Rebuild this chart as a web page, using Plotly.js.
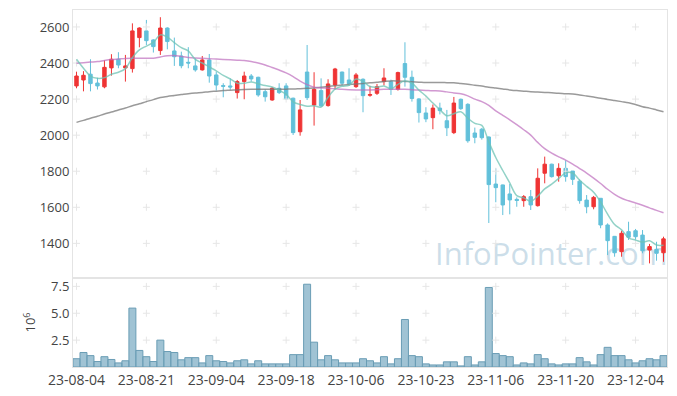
<!DOCTYPE html>
<html>
<head>
<meta charset="utf-8">
<script src="https://cdn.plot.ly/plotly-3.0.1.min.js"></script>
<style>html,body{margin:0;padding:0;background:#fff;}#chart{width:677px;height:396px;}</style>
</head>
<body>
<div id="chart"></div>
<script>
const dates = [
"2023-08-04","2023-08-07","2023-08-08","2023-08-09","2023-08-10","2023-08-11","2023-08-14","2023-08-16","2023-08-17","2023-08-18",
"2023-08-21","2023-08-22","2023-08-23","2023-08-24","2023-08-25","2023-08-28","2023-08-29","2023-08-30","2023-08-31","2023-09-01",
"2023-09-04","2023-09-05","2023-09-06","2023-09-07","2023-09-08","2023-09-11","2023-09-12","2023-09-13","2023-09-14","2023-09-15",
"2023-09-18","2023-09-19","2023-09-20","2023-09-21","2023-09-22","2023-09-25","2023-09-26","2023-09-27","2023-10-04","2023-10-05",
"2023-10-06","2023-10-10","2023-10-11","2023-10-12","2023-10-13","2023-10-16","2023-10-17","2023-10-18","2023-10-19","2023-10-20",
"2023-10-23","2023-10-24","2023-10-25","2023-10-26","2023-10-27","2023-10-30","2023-10-31","2023-11-01","2023-11-02","2023-11-03",
"2023-11-06","2023-11-07","2023-11-08","2023-11-09","2023-11-10","2023-11-13","2023-11-14","2023-11-15","2023-11-16","2023-11-17",
"2023-11-20","2023-11-21","2023-11-22","2023-11-23","2023-11-24","2023-11-27","2023-11-28","2023-11-29","2023-11-30","2023-12-01",
"2023-12-04","2023-12-05","2023-12-06","2023-12-07","2023-12-08"];

const openP = [2273,2306,2338,2289,2268,2373,2421,2373,2369,2541,2578,2528,2469,2594,2467,2439,2404,2384,2362,2417,
2334,2275,2273,2236,2297,2328,2321,2241,2195,2260,2273,2205,2019,2350,2167,2247,2164,2278,2350,2306,
2269,2310,2221,2232,2297,2297,2254,2397,2321,2201,2123,2097,2150,2080,2014,2199,2171,2012,2033,1990,
1729,1724,1674,1644,1637,1659,1609,1789,1839,1775,1816,1801,1745,1640,1603,1650,1502,1439,1354,1465,
1470,1446,1363,1367,1348];
const highP = [2352,2355,2421,2318,2415,2449,2460,2445,2620,2598,2639,2532,2654,2598,2541,2463,2488,2426,2439,2450,
2352,2288,2315,2306,2352,2339,2324,2254,2266,2288,2288,2208,2195,2500,2349,2315,2310,2373,2352,2371,
2345,2315,2273,2284,2371,2308,2352,2515,2358,2205,2155,2170,2180,2140,2212,2203,2177,2042,2040,1993,
1816,1726,1729,1655,1668,1696,1816,1881,1842,1844,1860,1801,1755,1668,1663,1650,1511,1441,1470,1520,
1480,1474,1397,1409,1437];
const lowP = [2260,2243,2243,2253,2260,2330,2371,2297,2347,2487,2500,2458,2445,2476,2384,2371,2371,2352,2358,2291,
2247,2210,2251,2203,2199,2297,2213,2186,2191,2228,2195,2001,1997,2195,2053,2158,2158,2254,2273,2273,
2262,2127,2213,2223,2276,2223,2247,2269,2186,2070,2072,2033,2115,1995,2006,2140,1958,1955,1975,1513,
1628,1557,1561,1603,1603,1585,1604,1733,1765,1742,1742,1724,1620,1567,1589,1484,1335,1326,1326,1419,
1420,1345,1289,1304,1298];
const closeP = [2328,2332,2286,2273,2376,2421,2389,2384,2578,2594,2524,2491,2594,2519,2435,2385,2400,2362,2417,2328,
2278,2271,2267,2297,2328,2312,2223,2213,2260,2236,2201,2014,2140,2208,2254,2162,2284,2367,2288,2284,
2334,2219,2225,2269,2317,2254,2347,2321,2203,2125,2090,2150,2136,2041,2178,2147,1969,1988,1986,1726,
1709,1613,1641,1638,1659,1613,1761,1839,1770,1816,1770,1755,1637,1603,1655,1502,1415,1348,1456,1434,
1437,1359,1382,1345,1425];
// volume in millions of shares
const volume = [0.77,1.35,1.06,0.51,0.96,0.70,0.38,0.58,5.48,1.54,0.96,0.51,2.50,1.44,1.35,0.67,0.87,0.87,0.38,1.06,
0.58,0.51,0.38,0.58,0.67,0.29,0.58,0.29,0.29,0.29,0.29,1.15,1.15,7.70,2.31,0.67,1.06,0.67,0.38,0.38,
0.38,0.77,0.58,0.38,0.96,0.29,0.77,4.42,1.06,0.96,0.29,0.19,0.19,0.48,0.48,0.10,0.96,0.19,0.48,7.40,
1.25,1.06,0.96,0.19,0.38,0.29,1.15,0.77,0.29,0.19,0.29,0.29,0.87,0.48,0.19,1.15,1.83,1.06,1.06,0.67,
0.38,0.58,0.77,0.67,1.06];
const ma5 = [2421,2371,2328,2315,2319,2338,2349,2369,2430,2473,2494,2514,2556,2544,2513,2485,2467,2420,2400,2378,
2357,2331,2312,2288,2288,2295,2285,2275,2267,2249,2227,2185,2170,2160,2163,2156,2210,2255,2271,2277,
2311,2298,2270,2266,2273,2257,2282,2302,2288,2250,2217,2178,2141,2108,2119,2130,2094,2065,2054,1963,
1876,1804,1735,1665,1652,1633,1662,1702,1728,1760,1791,1790,1750,1716,1684,1630,1562,1505,1475,1431,
1418,1407,1414,1391,1390];
const ma20 = [2399,2402,2405,2408,2414,2419,2422,2425,2426,2426,2426,2427,2434,2440,2442,2436,2431,2428,2426,2424,
2422,2420,2418,2416,2414,2409,2400,2389,2375,2361,2345,2325,2300,2280,2266,2262,2260,2257,2254,2252,
2251,2251,2251,2252,2254,2254,2254,2254,2252,2250,2248,2246,2245,2240,2234,2230,2218,2200,2186,2165,
2135,2110,2085,2058,2030,2000,1960,1925,1900,1880,1862,1840,1815,1790,1762,1732,1700,1672,1650,1636,
1624,1611,1597,1583,1570];
const ma60 = [2071,2082,2094,2105,2117,2128,2140,2151,2163,2174,2186,2197,2209,2215,2220,2225,2230,2234,2237,2241,
2244,2247,2249,2251,2253,2254,2254,2254,2254,2254,2255,2256,2258,2260,2262,2266,2270,2274,2278,2281,
2284,2287,2290,2294,2298,2301,2300,2298,2296,2294,2292,2292,2292,2291,2290,2286,2282,2277,2272,2266,
2261,2256,2251,2247,2244,2241,2239,2237,2235,2233,2230,2228,2223,2217,2211,2205,2198,2192,2186,2180,
2170,2158,2150,2140,2130];

const priceTicks = [1400,1600,1800,2000,2200,2400,2600];
const volTicks = [2.5,5,7.5];
const volTickText = ["2.5","5.0","7.5"];
const xTickVals = dates.filter((d,i)=>i%10===0);
const xTickText = xTickVals.map(d=>d.slice(2));

const gridColor = '#e6e6e6';
function crosses(yvals, yaxis){
  const xs=[], ys=[];
  xTickVals.forEach(x=>yvals.forEach(y=>{xs.push(x);ys.push(y);}));
  return {type:'scatter',mode:'markers',x:xs,y:ys,yaxis:yaxis,hoverinfo:'skip',showlegend:false,
    marker:{symbol:'cross-thin',size:5,line:{width:1,color:gridColor}}};
}

const traces = [
  crosses(priceTicks,'y'),
  crosses(volTicks,'y2'),
  {type:'candlestick',x:dates,open:openP,high:highP,low:lowP,close:closeP,yaxis:'y',showlegend:false,
   whiskerwidth:0,
   increasing:{line:{color:'#ef3434',width:1},fillcolor:'#ef3434'},
   decreasing:{line:{color:'#62c0da',width:1},fillcolor:'#62c0da'}},
  {type:'bar',x:dates,y:volume,yaxis:'y2',showlegend:false,
   marker:{color:'rgba(128,175,198,0.75)',line:{color:'#6a9db5',width:1}}},
  {type:'scatter',mode:'lines',x:dates,y:ma60,yaxis:'y',showlegend:false,
   line:{color:'rgba(120,120,120,0.75)',width:1.5,shape:'spline'}},
  {type:'scatter',mode:'lines',x:dates,y:ma20,yaxis:'y',showlegend:false,
   line:{color:'rgba(190,110,190,0.7)',width:1.5,shape:'spline'}},
  {type:'scatter',mode:'lines',x:dates,y:ma5,yaxis:'y',showlegend:false,
   line:{color:'rgba(110,195,180,0.75)',width:1.5,shape:'spline'}}
];

const tickFont = {family:'Open Sans, Noto Sans, sans-serif',size:13,color:'#444'};
const xTickFont = {family:'Open Sans, Noto Sans, sans-serif',size:14,color:'#444'};
const layout = {
  width:677,height:396,
  margin:{l:73,r:10,t:10,b:29},
  paper_bgcolor:'#fff',plot_bgcolor:'#fff',
  font:tickFont,
  bargap:0,
  showlegend:false,
  xaxis:{type:'category',categoryorder:'array',categoryarray:dates,anchor:'y2',tickvals:xTickVals,ticktext:xTickText,tickfont:xTickFont,
    showgrid:false,zeroline:false,ticks:'',showline:true,linecolor:'#e4e4e4',linewidth:1,mirror:'all',
    rangeslider:{visible:false},range:[-0.5,dates.length-0.5]},
  yaxis:{domain:[0.2493,1],range:[1208,2694],tickvals:priceTicks,tickfont:tickFont,showgrid:false,zeroline:false,
    ticks:'',showline:true,linecolor:'#e4e4e4',linewidth:1,mirror:'all'},
  yaxis2:{domain:[0,0.2493],range:[0,8.28],tickvals:volTicks,ticktext:volTickText,tickfont:tickFont,
    showgrid:false,zeroline:false,ticks:'',showline:true,linecolor:'#e4e4e4',linewidth:1,mirror:'all',
    title:{text:'10<sup>6</sup>',font:tickFont,standoff:12}},
  shapes:[{type:'rect',xref:'paper',yref:'paper',x0:0.56,x1:1.05,y0:0.25,y1:0.38,layer:'below',
    line:{width:0},fillcolor:'rgba(0,0,0,0)',
    label:{text:'InfoPointer.com',textposition:'middle center',font:{family:'Open Sans, sans-serif',size:31,color:'rgba(170,200,218,0.6)'}}}]
};
Plotly.newPlot('chart',traces,layout,{displayModeBar:false,staticPlot:true});
</script>
</body>
</html>
